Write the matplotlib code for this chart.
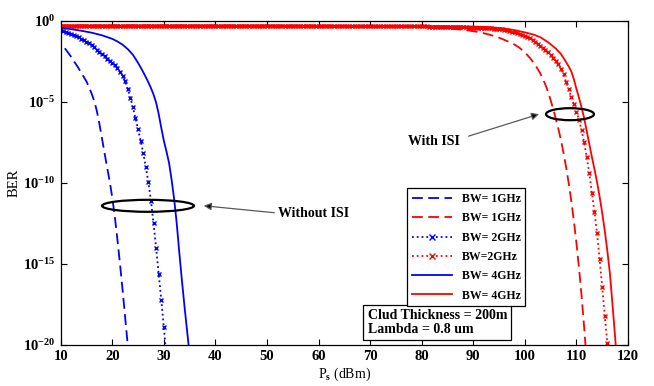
import numpy as np
import matplotlib
matplotlib.use("Agg")
import matplotlib.pyplot as plt
from matplotlib.patches import Ellipse

plt.rcParams['font.family'] = 'Liberation Serif'
plt.rcParams['font.weight'] = 'bold'
plt.rcParams['mathtext.fontset'] = 'custom'
plt.rcParams['mathtext.rm'] = 'Liberation Serif:bold'
plt.rcParams['mathtext.it'] = 'Liberation Serif:bold'
plt.rcParams['mathtext.bf'] = 'Liberation Serif:bold'
plt.rcParams['mathtext.default'] = 'rm'

# values are log10(BER)

# without ISI (blue)
ps_1g = [10.8, 11.5, 12, 12.5, 13, 13.5, 14, 14.5, 15, 15.5,
         16, 16.5, 17, 17.5, 18, 18.5, 19, 19.5, 20, 20.5,
         21, 21.5, 22, 22.5, 23, 23.5]
ber_1g = [-1.70, -2.0, -2.22, -2.47, -2.70, -2.95, -3.22, -3.48, -3.75, -4.1,
          -4.5, -4.95, -5.55, -6.35, -7.25, -8.15, -9.05, -9.9, -10.9, -12.1,
          -13.5, -15.0, -16.6, -18.3, -20.0, -21.8]

# 2GHz, one point every 0.5 dBm from 10
ber_2g = [-0.57, -0.62, -0.68, -0.74, -0.80, -0.87, -0.94, -1.01, -1.10, -1.20,
          -1.29, -1.39, -1.50, -1.64, -1.78, -1.92, -2.06, -2.2, -2.35, -2.47,
          -2.6, -2.73, -2.92, -3.15, -3.4, -3.75, -4.2, -4.75, -5.35, -6.0,
          -6.7, -7.4, -8.15, -9.0, -9.95, -11.1, -12.5, -14.0, -15.6, -17.2,
          -18.9, -20.7]

ps_4g = [10, 12, 14, 16, 18, 20, 21, 22, 23, 24,
         24.5, 25, 25.5, 26, 26.5, 27, 27.5, 28, 28.5, 29,
         29.5, 30, 30.5, 31, 31.5, 32, 32.5, 33, 33.5, 34,
         34.5, 35]
ber_4g = [-0.45, -0.52, -0.62, -0.74, -0.9, -1.12, -1.28, -1.48, -1.75, -2.1,
          -2.35, -2.6, -2.88, -3.17, -3.48, -3.8, -4.15, -4.55, -5.05, -5.75,
          -6.6, -7.4, -8.05, -8.75, -9.8, -11.0, -12.5, -14.3, -16.0, -17.6,
          -19.1, -20.6]

# with ISI (red)
ps_1g_isi = [10, 30, 50, 60, 70, 75, 80, 82, 84, 86,
             88, 89, 90, 91, 92, 93, 94, 95, 96, 97,
             98, 99, 100, 101, 102, 103, 104, 104.5, 105, 105.5,
             106, 106.5, 107, 107.5, 108, 108.5, 109, 109.5, 110, 110.5,
             111, 111.5, 112]
ber_1g_isi = [-0.30, -0.30, -0.31, -0.31, -0.33, -0.35, -0.39, -0.42, -0.45, -0.50,
              -0.56, -0.60, -0.65, -0.70, -0.77, -0.85, -0.94, -1.05, -1.18, -1.32,
              -1.47, -1.68, -1.95, -2.3, -2.72, -3.25, -3.95, -4.4, -4.9, -5.45,
              -6.04, -6.66, -7.36, -8.15, -9.02, -10.0, -11.09, -12.32, -13.69, -15.23,
              -16.95, -18.89, -21.04]

# 2GHz with ISI, one point every 0.5 dBm from 10 (flat part first)
ber_2g_isi = [-0.30] * 105 + [-0.31] * 20 + [-0.32] * 9 + [
    -0.33, -0.33, -0.335, -0.34, -0.34, -0.345, -0.35, -0.35, -0.355, -0.36,
    -0.36, -0.365, -0.37, -0.37, -0.375, -0.38, -0.385, -0.39, -0.395, -0.40,
    -0.40, -0.405, -0.41, -0.415, -0.42, -0.425, -0.43, -0.435, -0.44, -0.445,
    -0.45, -0.46, -0.47, -0.48, -0.49, -0.50, -0.52, -0.535, -0.55, -0.58,
    -0.62, -0.67, -0.72, -0.77, -0.83, -0.88, -0.94, -1.0, -1.07, -1.18,
    -1.3, -1.42, -1.55, -1.68, -1.82, -1.96, -2.1, -2.28, -2.48, -2.7,
    -2.95, -3.3, -3.78, -4.22, -4.7, -5.15, -5.62, -6.1, -6.75, -7.5,
    -8.4, -9.4, -10.6, -11.8, -13.1, -14.7, -16.4, -18.2, -19.9, -21.7]

ps_4g_isi = [10, 40, 60, 70, 80, 85, 90, 92, 94, 96,
             98, 100, 101, 102, 103, 104, 105, 106, 107, 107.5,
             108, 108.5, 109, 109.5, 110, 110.5, 111, 111.5, 112, 112.5,
             113, 113.5, 114, 114.5, 115, 115.5, 116, 116.5, 117, 117.5,
             118]
ber_4g_isi = [-0.30, -0.30, -0.31, -0.32, -0.33, -0.34, -0.36, -0.38, -0.42, -0.48,
              -0.58, -0.72, -0.80, -0.89, -1.02, -1.22, -1.45, -1.72, -2.05, -2.3,
              -2.55, -2.82, -3.12, -3.6, -4.2, -4.75, -5.35, -6.0, -6.8, -7.6,
              -8.4, -9.15, -9.95, -10.85, -11.85, -12.95, -14.2, -15.6, -17.5, -19.5,
              -21.5]

labels = ['BW= 1GHz', 'BW= 1GHz', 'BW= 2GHz', 'BW=2GHz', 'BW= 4GHz', 'BW= 4GHz']

ps_2g = 10 + 0.5 * np.arange(len(ber_2g))
ps_2g_isi = 10 + 0.5 * np.arange(len(ber_2g_isi))

fig = plt.figure(figsize=(6.54, 3.86), dpi=100)
ax = fig.add_axes([0.0928, 0.1062, 0.8674, 0.8402])

lw = 1.3
ax.semilogy(ps_1g, 10.0 ** np.array(ber_1g), color='blue', lw=lw, dashes=(6, 3), label=labels[0])
ax.semilogy(ps_1g_isi, 10.0 ** np.array(ber_1g_isi), color='red', lw=lw, dashes=(6, 3), label=labels[1])
ax.semilogy(ps_2g, 10.0 ** np.array(ber_2g), color='blue', lw=lw, ls=':', marker='x',
            ms=3.2, mew=1.0, label=labels[2])
ax.semilogy(ps_2g_isi, 10.0 ** np.array(ber_2g_isi), color='red', lw=lw, ls=':', marker='x',
            ms=3.2, mew=1.0, label=labels[3])
ax.semilogy(ps_4g, 10.0 ** np.array(ber_4g), color='blue', lw=lw, label=labels[4])
ax.semilogy(ps_4g_isi, 10.0 ** np.array(ber_4g_isi), color='red', lw=lw, label=labels[5])

ax.set_xlim(10, 120)
ax.set_ylim(1e-20, 1)
ax.set_xticks(range(10, 121, 10))
ax.set_yticks([1e-20, 1e-15, 1e-10, 1e-5, 1])
ax.set_yticklabels([r'$10^{-20}$', r'$10^{-15}$', r'$10^{-10}$', r'$10^{-5}$', r'$10^{0}$'])
ax.minorticks_off()
ax.tick_params(direction='in', top=True, right=True, length=4, labelsize=10.5, width=0.8)
for s in ax.spines.values():
    s.set_linewidth(0.9)

ax.set_xlabel(r'P$_{\rm s}$ (dBm)', fontsize=10, labelpad=2)
ax.set_ylabel('BER', fontsize=10.5, labelpad=2)

leg = ax.legend(loc='upper left', bbox_to_anchor=(0.611, 0.4832), borderaxespad=0,
                fancybox=False, framealpha=1, edgecolor='black', fontsize=8.5,
                handlelength=3.4, labelspacing=0.62, markerscale=1.3, borderpad=0.4)
leg.get_frame().set_linewidth(0.9)

ax.text(0.541, 0.070, 'Clud Thickness = 200m\nLambda = 0.8 um', transform=ax.transAxes,
        fontsize=10, va='center', ha='left', linespacing=1.05,
        bbox=dict(boxstyle='square,pad=0.3', fc='white', ec='black', lw=0.9))

# ellipses around the curves
ax.add_patch(Ellipse((0.1539, 0.4292), 0.162, 0.037, transform=ax.transAxes,
                     fill=False, ec='black', lw=1.6, zorder=5))
ax.add_patch(Ellipse((0.8978, 0.7117), 0.0846, 0.037, transform=ax.transAxes,
                     fill=False, ec='black', lw=1.6, zorder=5))

ax.annotate('', xy=(0.2473, 0.4302), xytext=(0.3815, 0.407), xycoords='axes fraction',
            arrowprops=dict(arrowstyle='-|>', fc='black', ec='0.35', lw=0.9, mutation_scale=11))
ax.text(0.383, 0.407, 'Without ISI', transform=ax.transAxes, fontsize=10, va='center', ha='left')

ax.annotate('', xy=(0.8479, 0.7145), xytext=(0.7144, 0.6414), xycoords='axes fraction',
            arrowprops=dict(arrowstyle='-|>', fc='black', ec='0.35', lw=0.9, mutation_scale=11))
ax.text(0.6122, 0.629, 'With ISI', transform=ax.transAxes, fontsize=10, va='center', ha='left')

fig.savefig('out.png', dpi=100)
